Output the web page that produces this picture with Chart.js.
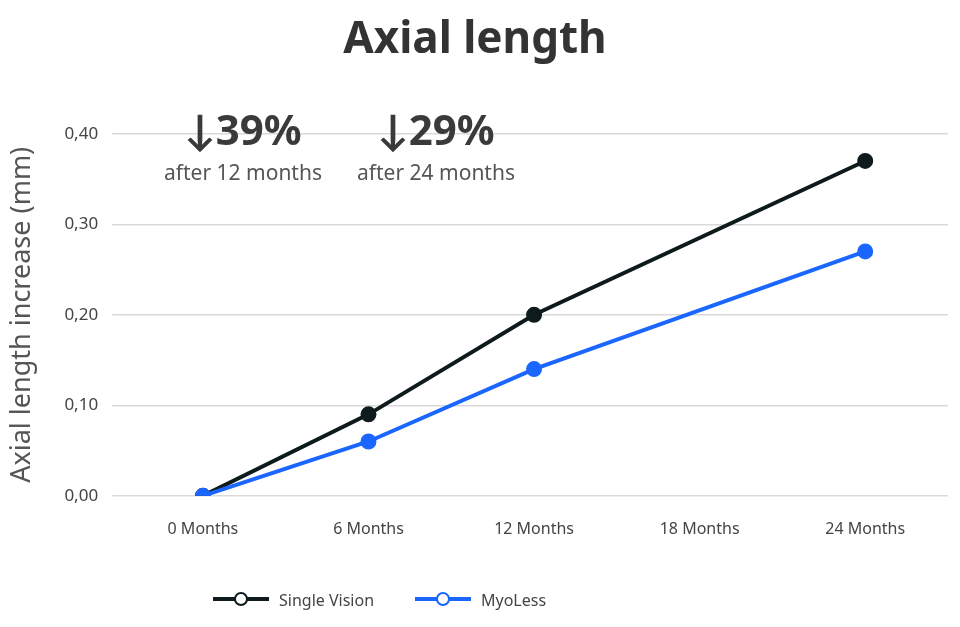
<!DOCTYPE html><html><head><meta charset="utf-8">
<script src="https://cdn.jsdelivr.net/npm/chart.js@4"></script>
<style>html,body{margin:0;background:#fff}#w{width:960px;height:627px}</style></head><body>
<div id="w"><canvas id="c"></canvas></div>
<script>
const categories=["0 Months","6 Months","12 Months","18 Months","24 Months"];
const singleVision=[0,0.09,0.20,null,0.37];
const myoLess=[0,0.06,0.14,null,0.27];
const yTicks=[0,0.1,0.2,0.3,0.4];
const notes=[["↓39%","after 12 months"],["↓29%","after 24 months"]];
const F='"Source Sans Pro","Noto Sans",Lato,sans-serif';
const deco={id:'deco',afterDraw(ch){const c=ch.ctx;c.save();c.textAlign='center';c.fillStyle='#3a3a3a';
 const xs=[243,436];
 notes.forEach((n,i)=>{c.font='bold 42px '+F;c.textBaseline='middle';c.fillText(n[0],xs[i],133);
  c.font='21px '+F;c.fillStyle='#555';c.fillText(n[1],xs[i],174);c.fillStyle='#3a3a3a';});
 const items=[["Single Vision","#0e1a1c",213],["MyoLess","#1a66ff",415]];
 items.forEach(([t,col,x])=>{c.strokeStyle=col;c.lineWidth=4;c.beginPath();c.moveTo(x,599);c.lineTo(x+56,599);c.stroke();
  c.fillStyle='#fff';c.lineWidth=2;c.beginPath();c.arc(x+28,599,6,0,7);c.fill();c.stroke();
  c.fillStyle='#444';c.font='16px '+F;c.textAlign='left';c.textBaseline='middle';c.fillText(t,x+66,601);});
 c.restore();}};
new Chart(document.getElementById('c'),{type:'line',data:{labels:categories,datasets:[
 {label:'Single Vision',data:singleVision,borderColor:'#0e1a1c',backgroundColor:'#0e1a1c',borderWidth:4,pointRadius:6,spanGaps:true,order:2},
 {label:'MyoLess',data:myoLess,borderColor:'#1a66ff',backgroundColor:'#1a66ff',borderWidth:4,pointRadius:6,spanGaps:true,order:1}]},
 options:{responsive:true,maintainAspectRatio:false,animation:false,
 layout:{padding:{left:2,right:12,bottom:72,top:0}},
 plugins:{legend:{display:false},tooltip:{enabled:false},
  title:{display:true,text:'Axial length',color:'#333',font:{family:F,size:44,weight:'bold'},padding:{top:14,bottom:67}}},
 scales:{x:{offset:true,grid:{display:false},border:{display:false},ticks:{color:'#444',font:{family:F,size:16},padding:16}},
  y:{min:0,max:0.4,afterBuildTicks(s){s.ticks=yTicks.map(v=>({value:v}));},
   grid:{color:'#d9d9d9',lineWidth:1.5},border:{display:false},
   ticks:{color:'#444',font:{family:F,size:17},padding:14,callback:v=>v.toFixed(2).replace('.',',')},
   title:{display:true,text:'Axial length increase (mm)',color:'#555',font:{family:F,size:27},padding:{bottom:12}}}}},
 plugins:[deco]});
</script></body></html>
